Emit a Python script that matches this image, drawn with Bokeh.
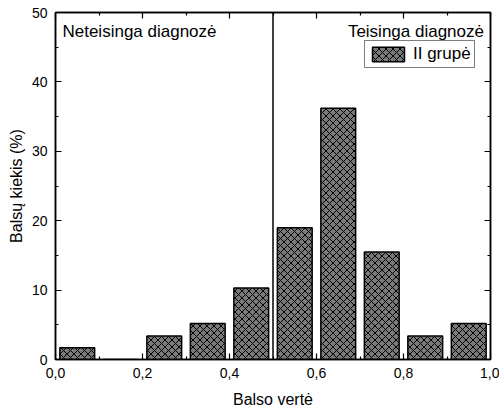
from bokeh.plotting import figure
from bokeh.models import (Range1d, LinearAxis, FixedTicker, CustomJSTickFormatter,
                          Label, Legend, LegendItem, Span, ColumnDataSource)
from bokeh.embed import file_html
from bokeh.resources import INLINE

# Histogram of vote values (group II)
bin_centers = [0.05, 0.15, 0.25, 0.35, 0.45, 0.55, 0.65, 0.75, 0.85, 0.95]
vote_share = [1.7, 0.0, 3.4, 5.2, 10.3, 19.0, 36.2, 15.5, 3.4, 5.2]
series_name = "II grupė"

x_ticks = [0.0, 0.2, 0.4, 0.6, 0.8, 1.0]
x_minor = [0.1, 0.3, 0.5, 0.7, 0.9]
y_ticks = [0, 10, 20, 30, 40, 50]
y_minor = [5, 15, 25, 35, 45]

x_title = "Balso vertė"
y_title = "Balsų kiekis (%)"
left_note = "Neteisinga diagnozė"
right_note = "Teisinga diagnozė"
threshold = 0.5

FONT = "Liberation Sans"

p = figure(width=499, height=412, output_backend="svg", toolbar_location=None,
           x_range=Range1d(0, 1), y_range=Range1d(0, 50),
           min_border_left=55, min_border_right=9, min_border_top=12,
           min_border_bottom=53, background_fill_color="white",
           border_fill_color="white")
p.grid.visible = False
p.outline_line_color = "black"
p.outline_line_width = 1.5

src = ColumnDataSource(dict(x=bin_centers, top=vote_share))
bars = p.vbar(x="x", top="top", width=0.08, bottom=0, source=src,
              fill_color="#7a7a7a", line_color="black", line_width=1.5,
              hatch_pattern="diagonal_cross", hatch_color="black",
              hatch_scale=7, hatch_weight=1)

p.add_layout(Span(location=threshold, dimension="height",
                  line_color="black", line_width=1.5))

def style_axis(ax):
    ax.axis_line_color = "black"
    ax.axis_line_width = 1.5
    ax.major_tick_in = 6
    ax.major_tick_out = 0
    ax.minor_tick_in = 3
    ax.minor_tick_out = 0
    ax.major_tick_line_width = 1.2
    ax.minor_tick_line_width = 1.2
    ax.major_label_text_font = FONT
    ax.major_label_text_color = "black"
    ax.major_label_text_font_size = "14px"
    ax.axis_label_text_font = FONT
    ax.axis_label_text_font_style = "normal"
    ax.axis_label_text_font_size = "16px"
    ax.axis_label_text_color = "black"

xa = p.xaxis[0]
xa.ticker = FixedTicker(ticks=x_ticks, minor_ticks=x_minor)
xa.formatter = CustomJSTickFormatter(code="return tick.toFixed(1).replace('.', ',');")
xa.axis_label = x_title
style_axis(xa)
xa.major_label_standoff = 8
xa.axis_label_standoff = 10

ya = p.yaxis[0]
ya.ticker = FixedTicker(ticks=y_ticks, minor_ticks=y_minor)
ya.axis_label = y_title
style_axis(ya)
ya.major_label_standoff = 8
ya.axis_label_standoff = 4

# Mirror axes on top and right: ticks only, no labels
for side, ticks, minor in (("above", x_ticks, x_minor), ("right", y_ticks, y_minor)):
    ax = LinearAxis(ticker=FixedTicker(ticks=ticks, minor_ticks=minor),
                    formatter=CustomJSTickFormatter(code="return '';"))
    style_axis(ax)
    ax.major_label_standoff = 0
    p.add_layout(ax, side)

p.add_layout(Label(x=0.016, y=47.3, text=left_note, text_font=FONT,
                   text_font_size="17px", text_color="black",
                   text_baseline="middle", text_align="left"))
p.add_layout(Label(x=0.985, y=47.3, text=right_note, text_font=FONT,
                   text_font_size="17px", text_color="black",
                   text_baseline="middle", text_align="right"))

legend = Legend(items=[LegendItem(label=series_name, renderers=[bars])],
                location=(309, 291), label_text_font=FONT,
                label_text_font_size="17px", label_text_color="black",
                border_line_color="black", border_line_width=1,
                glyph_width=40, glyph_height=18, padding=3, margin=0,
                spacing=0, label_standoff=5, background_fill_alpha=1)
p.add_layout(legend)

open("out.html", "w").write(file_html(p, INLINE))
